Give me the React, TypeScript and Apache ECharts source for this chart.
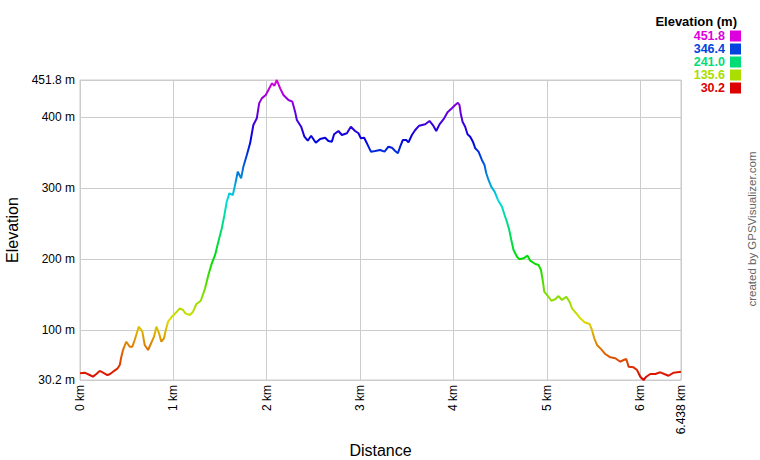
import React, { useEffect, useRef } from "react";
import * as echarts from "echarts";

const distanceKm = [
  0, 0.05, 0.104, 0.139, 0.175, 0.211, 0.247, 0.293, 0.318, 0.354, 0.4, 0.426, 0.443, 0.461, 0.496,
  0.533, 0.561, 0.586, 0.629, 0.668, 0.693, 0.729, 0.758, 0.793, 0.818, 0.847, 0.871, 0.9, 0.919,
  0.943, 0.979, 1.021, 1.069, 1.104, 1.129, 1.176, 1.211, 1.247, 1.294, 1.34, 1.375, 1.412, 1.447,
  1.482, 1.519, 1.547, 1.572, 1.6, 1.637, 1.661, 1.69, 1.726, 1.75, 1.787, 1.822, 1.857, 1.894,
  1.919, 1.947, 1.99, 2.018, 2.055, 2.083, 2.108, 2.144, 2.179, 2.233, 2.275, 2.304, 2.323, 2.369,
  2.404, 2.44, 2.476, 2.526, 2.572, 2.626, 2.661, 2.698, 2.722, 2.768, 2.805, 2.859, 2.901, 2.947,
  2.983, 3.009, 3.044, 3.079, 3.116, 3.162, 3.215, 3.262, 3.304, 3.341, 3.376, 3.405, 3.43, 3.459,
  3.494, 3.519, 3.555, 3.591, 3.633, 3.698, 3.744, 3.78, 3.816, 3.851, 3.901, 3.937, 3.984, 4.019,
  4.048, 4.065, 4.08, 4.098, 4.126, 4.151, 4.18, 4.209, 4.234, 4.269, 4.305, 4.333, 4.352, 4.376,
  4.405, 4.441, 4.477, 4.52, 4.548, 4.573, 4.598, 4.62, 4.644, 4.681, 4.708, 4.751, 4.794, 4.823,
  4.877, 4.912, 4.938, 4.959, 4.973, 5.013, 5.048, 5.091, 5.126, 5.163, 5.209, 5.244, 5.27, 5.316,
  5.359, 5.405, 5.459, 5.484, 5.509, 5.538, 5.584, 5.627, 5.681, 5.734, 5.788, 5.823, 5.852, 5.877,
  5.93, 5.967, 6.002, 6.037, 6.066, 6.109, 6.163, 6.216, 6.259, 6.305, 6.359, 6.438,
];

const elevationM = [
  39.6, 40.5, 37.2, 34.9, 38.6, 42.9, 40.5, 37.2, 38.2, 41.9, 46.1, 51.3, 63, 72.4, 84,
  77, 77, 86.4, 105.1, 98.1, 79.4, 72.4, 80.8, 91.1, 105.1, 95.8, 84, 88.8, 100.5,
  112.1, 118.3, 123.9, 130.9, 128.6, 123.9, 121.5, 126.2, 137, 141.6, 159.1, 177.8, 194.2, 205.9,
  224.6, 243.4, 262.1, 280.8, 292.6, 290.2, 304.2, 322.9, 313.6, 330, 346.4, 362.8, 388.5, 398,
  419, 426, 430.7, 437.7, 447.1, 443.8, 451.8, 440.1, 430.7, 423.7, 421.3, 407.3, 395.6, 386.2,
  372.1, 366.5, 373.5, 363.7, 368.9, 370.7, 366.1, 365.1, 375.5, 380.1, 374.5, 376.9, 386.2, 380.1,
  376.9, 369.8, 370.7, 361.4, 351.1, 352, 353.4, 351.1, 358.1, 356.7, 352, 348.8, 358.1, 367.5,
  367.5, 364.2, 374.5, 381.5, 387.6, 389.5, 394.2, 388.5, 380.1, 389.5, 398, 406.4, 412, 416.7,
  419.9, 416.7, 403.6, 393.2, 386.2, 375.5, 372.1, 365.1, 355.8, 351.1, 339.4, 332.4, 320.7, 311.3,
  301.9, 294.9, 283.2, 273.8, 262.1, 252.7, 241, 226.9, 212.9, 203.5, 199.8, 201.2, 204.9, 197.9,
  193.2, 191.8, 184.8, 168.3, 154.3, 148.2, 141.6, 143.6, 148.2, 142.6, 147.3, 140.2, 131, 123.9,
  116.9, 111.3, 108.9, 100.5, 88.8, 79.4, 73.3, 66.7, 62.1, 60.7, 55.9, 58.3, 59.7, 48.9,
  48, 44.3, 34.8, 30.2, 34.8, 38.6, 38.6, 41, 38.6, 36.2, 40.5, 41.9,
];

const legendValues = ["451.8", "346.4", "241.0", "135.6", "30.2"];
const legendColors = ["#dd00dd", "#0044dd", "#00dd77", "#aadd00", "#dd0000"];

const elevMin = 30.2;
const elevMax = 451.8;
const distMax = 6.438;

const rampColors = [
  "#dd0000", "#dd6e00", "#dddd00", "#6edd00", "#00dd00", "#00dd6e",
  "#00dddd", "#006edd", "#0000dd", "#6e00dd", "#dd00dd",
];

const FONT = "Arial, 'Liberation Sans', sans-serif";

export default function App() {
  const ref = useRef<HTMLDivElement>(null);
  useEffect(() => {
    if (!ref.current) return;
    const chart = echarts.init(ref.current, null, { renderer: "svg" });
    const data = distanceKm.map((d, i) => [d, elevationM[i]]);
    const legendGraphics: any[] = [
      {
        type: "text",
        x: 737,
        y: 21,
        style: {
          text: "Elevation (m)",
          font: `bold 13px ${FONT}`,
          fill: "#000",
          textAlign: "right",
          textVerticalAlign: "middle",
        },
      },
    ];
    legendValues.forEach((v, i) => {
      const cy = 36 + 13 * i;
      legendGraphics.push({
        type: "text",
        x: 725,
        y: cy,
        style: {
          text: v,
          font: `bold 12.5px ${FONT}`,
          fill: legendColors[i],
          textAlign: "right",
          textVerticalAlign: "middle",
        },
      });
      legendGraphics.push({
        type: "rect",
        shape: { x: 730, y: cy - 5.5, width: 11, height: 11 },
        style: { fill: legendColors[i] },
      });
    });
    legendGraphics.push({
      type: "text",
      x: 752,
      y: 229,
      rotation: Math.PI / 2,
      style: {
        text: "created by GPSVisualizer.com",
        font: `11.5px ${FONT}`,
        fill: "#666",
        textAlign: "center",
        textVerticalAlign: "middle",
      },
    });

    chart.setOption({
      animation: false,
      backgroundColor: "#fff",
      grid: {
        left: 80,
        top: 80,
        width: 601,
        height: 300,
        show: true,
        borderColor: "#ccc",
        borderWidth: 1,
        containLabel: false,
        outerBoundsMode: "none",
      },
      xAxis: {
        type: "value",
        min: 0,
        max: distMax,
        splitNumber: 6,
        name: "Distance",
        nameLocation: "middle",
        nameGap: 62,
        nameTextStyle: { fontSize: 16, color: "#000", fontFamily: FONT },
        axisLine: { show: false },
        axisTick: { show: false },
        splitLine: { show: true, lineStyle: { color: "#ccc", width: 1 } },
        axisLabel: {
          rotate: 90,
          margin: 5,
          fontSize: 12,
          color: "#000",
          fontFamily: FONT,
          showMinLabel: true,
          showMaxLabel: true,
          formatter: (v: number) => `${v} km`,
        },
      },
      yAxis: {
        type: "value",
        min: elevMin,
        max: elevMax,
        splitNumber: 5,
        name: "Elevation",
        nameLocation: "middle",
        nameGap: 58,
        nameTextStyle: { fontSize: 16, color: "#000", fontFamily: FONT },
        axisLine: { show: false },
        axisTick: { show: false },
        splitLine: { show: true, lineStyle: { color: "#ccc", width: 1 } },
        axisLabel: {
          margin: 5,
          fontSize: 12,
          color: "#000",
          fontFamily: FONT,
          showMinLabel: true,
          showMaxLabel: true,
          formatter: (v: number) => `${v} m`,
        },
      },
      visualMap: {
        type: "continuous",
        show: false,
        dimension: 1,
        seriesIndex: 0,
        min: elevMin,
        max: elevMax,
        inRange: { color: rampColors },
      },
      series: [
        {
          type: "line",
          data,
          showSymbol: false,
          symbol: "none",
          lineStyle: { width: 2 },
          silent: true,
        },
      ],
      graphic: legendGraphics,
    });
    return () => chart.dispose();
  }, []);
  return (
    <div
      ref={ref}
      style={{ position: "fixed", left: 0, top: 0, width: 760, height: 460, background: "#fff" }}
    />
  );
}
